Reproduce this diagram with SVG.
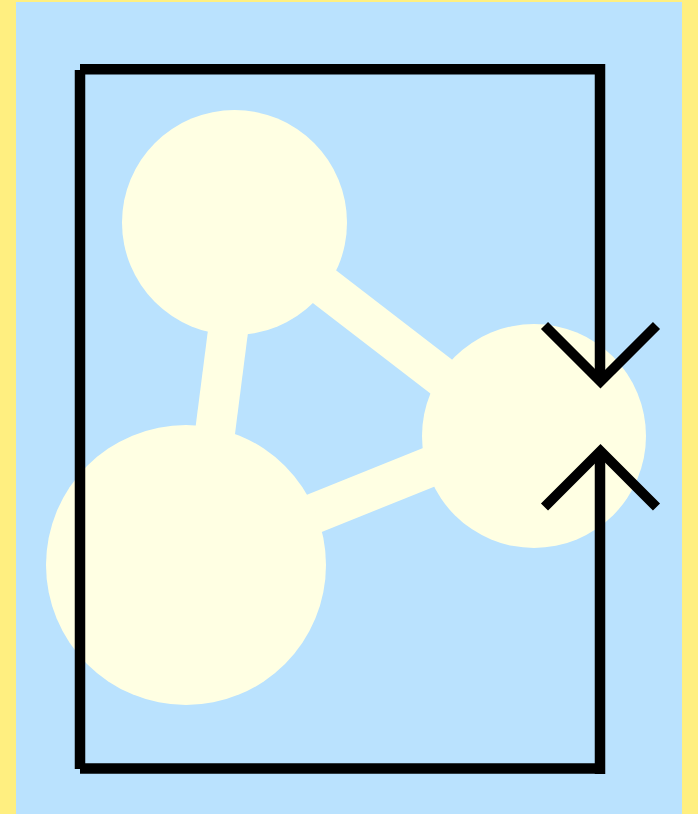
<svg xmlns="http://www.w3.org/2000/svg" width="698" height="814" viewBox="0 0 698 814">
<style>
.node{fill:#ffffe3}
.edge{stroke:#ffffe3;stroke-width:40;fill:none}
.frame{stroke:#000;stroke-width:10.5;fill:none;stroke-linecap:butt}
.chev{stroke:#000;stroke-width:10;fill:none;stroke-linejoin:miter;stroke-linecap:butt}
</style>
<rect x="0" y="0" width="698" height="814" fill="#ffef80"/>
<rect x="16" y="2" width="666" height="812" fill="#bae2fe"/>
<g id="connectors">
<line class="edge" x1="242" y1="222" x2="198" y2="565"/>
<line class="edge" x1="234" y1="217" x2="534" y2="448"/>
<line class="edge" x1="186" y1="565" x2="534" y2="425"/>
</g>
<g id="node-top"><circle class="node" cx="234.5" cy="222.5" r="112.5"/></g>
<g id="node-right"><circle class="node" cx="534" cy="436" r="112"/></g>
<g id="node-bottom"><circle class="node" cx="186" cy="565" r="140"/></g>
<g id="frame">
<line class="frame" x1="80" y1="69.2" x2="605" y2="69.2"/>
<line class="frame" x1="80" y1="70" x2="80" y2="769"/>
<line class="frame" x1="80" y1="768.5" x2="605" y2="768.5"/>
<line class="frame" x1="600" y1="64" x2="600" y2="381"/>
<line class="frame" x1="600" y1="452" x2="600" y2="774"/>
<polyline class="chev" points="544.5,325.5 600.5,381.5 656.5,325.5"/>
<polyline class="chev" points="544.5,507 600.5,451 656.5,507"/>
</g>
</svg>
